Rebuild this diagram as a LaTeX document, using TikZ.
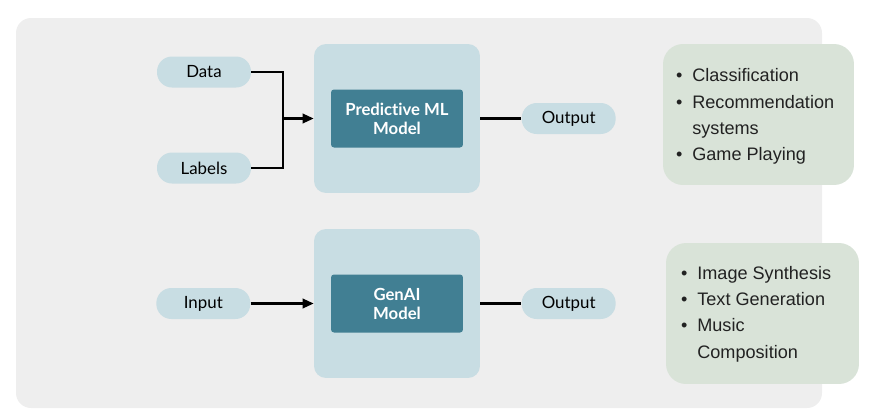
\documentclass[tikz,border=0pt]{standalone}
\usepackage{fontspec}
\setmainfont{Liberation Sans}
\newfontfamily\pillfont[Ligatures=NoCommon]{Lato}
\usepackage{xcolor}
\usetikzlibrary{arrows.meta,positioning}

\definecolor{bgpanel}{HTML}{EEEEEE}
\definecolor{pillblue}{HTML}{C8DDE3}
\definecolor{modelteal}{HTML}{417F93}
\definecolor{usegreen}{HTML}{D9E3D8}
\definecolor{listtext}{HTML}{222222}

\begin{document}
\begin{tikzpicture}[
    x=0.02cm, y=-0.02cm,
    pill/.style={rectangle, rounded corners=0.3cm, fill=pillblue, minimum width=1.88cm, minimum height=0.62cm, font=\pillfont\fontsize{9.6}{11}\selectfont},
    panel/.style={rectangle, rounded corners=0.24cm, fill=pillblue, minimum width=3.32cm, minimum height=2.98cm},
    model/.style={rectangle, rounded corners=0.06cm, fill=modelteal, text=white, minimum width=2.64cm, minimum height=1.16cm, align=center, font=\pillfont\bfseries\fontsize{9.5}{10.8}\selectfont},
    usebox/.style={rectangle, rounded corners=0.4cm, fill=usegreen, minimum height=2.82cm},
    uselist/.style={anchor=west, inner sep=0pt, text=listtext, font=\fontsize{10.3}{14.9}\selectfont},
    line/.style={line width=1.15pt},
    arrow/.style={line, -{Triangle[length=0.22cm, width=0.19cm]}}
]
\useasboundingbox (0,0) rectangle (875,410);
\fill[bgpanel, rounded corners=0.3cm] (16,18) rectangle (822,408);

% predictive model
\node[panel] (predpanel) at (397,118.5) {};
\node[model] (predmodel) at (predpanel) {Predictive ML\\Model};
\node[pill, right=0.82cm of predpanel] (predout) {Output};
\node[pill] (data) at (204,72) {Data};
\node[pill] (labels) at (204,168) {Labels};
\coordinate (join) at (283,118.5);

% generative model
\node[panel] (genpanel) at (397,303.5) {};
\node[model] (genmodel) at (genpanel) {GenAI\\Model};
\node[pill, right=0.82cm of genpanel] (genout) {Output};
\node[pill, left=1.26cm of genpanel] (input) {Input};

% use cases
\node[usebox, minimum width=3.82cm] (preduse) at (758.5,114.5) {};
\node[uselist, right=0.26cm of preduse.west, yshift=-0.03cm] (predlist) {%
  \begin{tabular}{@{}l@{\hspace{0.2cm}}l@{}}
  \textbullet & Classification\\
  \textbullet & Recommendation\\
              & systems\\
  \textbullet & Game Playing
  \end{tabular}};
\node[usebox, minimum width=3.86cm] (genuse) at (762.5,313.5) {};
\node[uselist, right=0.3cm of genuse.west] (genlist) {%
  \begin{tabular}{@{}l@{\hspace{0.2cm}}l@{}}
  \textbullet & Image Synthesis\\
  \textbullet & Text Generation\\
  \textbullet & Music\\
              & Composition
  \end{tabular}};

\draw[line] (data) -| (join) |- (labels);
\draw[arrow] (join) -- (predpanel);
\draw[line] (predpanel) -- (predout);
\draw[arrow] (input) -- (genpanel);
\draw[line] (genpanel) -- (genout);
\end{tikzpicture}
\end{document}
